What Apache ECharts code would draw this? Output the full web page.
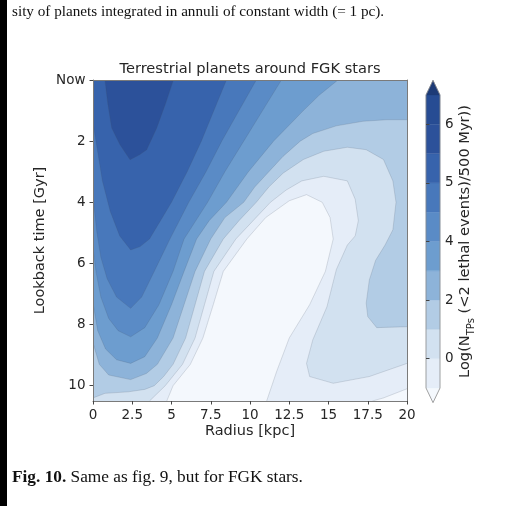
<!DOCTYPE html>
<html><head><meta charset="utf-8">
<script src="https://cdn.jsdelivr.net/npm/echarts@6/dist/echarts.min.js"></script>
<style>html,body{margin:0;padding:0;background:#fff;}#c{width:515px;height:506px;}</style>
</head><body><div id="c"></div>
<script>
// ---- axis data ----
const radiusRange = [0, 20];
const lookbackRange = [0, 10.5];
const radiusTicks = [0, 2.5, 5, 7.5, 10, 12.5, 15, 17.5, 20];
const lookbackTicks = [0, 2, 4, 6, 8, 10];
const levels = [-1, 0, 1, 2, 3, 4, 4.5, 5, 5.5, 6, 6.5];
const colorbarTicks = [0, 2, 4, 5, 6];
// ---- contour lines: [radius kpc, lookback Gyr] ----
const contour1 = [[4.7,10.5],[5.1,10.0],[6.2,9.3],[7.0,8.44],[7.66,7.35],[8.3,6.26],[9.8,5.2],[11.0,4.5],[12.5,3.95],[13.6,3.75],[14.6,4.0],[15.1,4.5],[15.3,5.2],[14.8,6.26],[13.8,7.35],[12.5,8.44],[11.7,9.53],[11.06,10.5]];
const contour1b = [[20,10.1],[18.5,10.4],[17.8,10.5]];
const contour2 = [[3.6,10.5],[4.6,10.0],[5.7,9.3],[6.5,8.44],[7.1,7.35],[7.7,6.26],[9.1,5.2],[10.2,4.6],[11.3,4.0],[12.3,3.6],[13.3,3.3],[14.7,3.15],[16.2,3.3],[16.7,3.9],[16.9,4.6],[16.7,5.1],[16.2,5.4],[15.5,6.2],[14.9,7.42],[14.0,8.5],[13.6,9.27],[13.8,9.7],[15.3,9.92],[17.6,9.7],[20,9.27]];
const contour3 = [[0,10.4],[0.76,10.25],[2.25,10.2],[3.3,10.12],[3.9,10.0],[4.5,9.7],[5.1,9.3],[5.9,8.44],[6.5,7.35],[7.1,6.26],[8.3,5.2],[9.3,4.6],[10.4,4.0],[11.2,3.5],[12.1,3.05],[13.4,2.6],[14.7,2.33],[16.2,2.2],[17.4,2.28],[18.5,2.6],[19.1,3.3],[19.3,4.0],[19.1,4.9],[18.6,5.4],[18.0,5.9],[17.6,6.54],[17.4,7.3],[17.5,7.74],[18.07,8.1],[20,8.07]];
const contour4 = [[0,8.6],[0.4,9.3],[1.0,9.65],[2.4,9.8],[3.4,9.6],[4.1,9.3],[5.1,8.44],[5.8,7.35],[6.5,6.26],[7.5,5.2],[8.4,4.5],[9.6,4.0],[10.3,3.5],[11.2,3.0],[12.1,2.5],[13.2,2.0],[14.0,1.75],[15.5,1.5],[17.2,1.35],[18.7,1.3],[20,1.3]];
const contour5 = [[0,7.3],[0.3,8.2],[0.8,8.8],[1.5,9.15],[2.4,9.27],[3.3,9.05],[4.1,8.44],[5.0,7.35],[5.8,6.26],[6.6,5.2],[7.4,4.6],[8.5,4.0],[9.9,3.0],[11.5,2.0],[13.4,1.0],[14.4,0.5],[15.6,0]];
const contour6 = [[0,5.5],[0.2,6.3],[0.5,7.1],[1.0,7.8],[1.6,8.2],[2.4,8.4],[3.3,8.1],[4.2,7.35],[5.1,6.26],[5.8,5.2],[7.3,4.0],[8.4,3.0],[9.6,2.0],[10.8,1.0],[12.0,0]];
const contour7 = [[0,3.8],[0.1,4.3],[0.25,5.0],[0.5,5.8],[0.9,6.5],[1.5,7.1],[2.4,7.47],[3.1,7.1],[3.9,6.26],[4.9,5.2],[6.1,4.0],[7.2,3.0],[8.2,2.0],[9.3,1.0],[10.4,0]];
const contour8 = [[0,1.4],[0.25,2.2],[0.6,3.3],[1.1,4.3],[1.7,5.1],[2.4,5.56],[3.0,5.45],[3.6,5.2],[4.3,4.6],[5.0,4.0],[6.0,3.0],[6.9,2.0],[7.7,1.0],[8.5,0]];
const contour9 = [[0.76,0],[0.95,0.8],[1.19,1.57],[1.72,2.12],[2.36,2.61],[2.99,2.44],[3.42,2.28],[4.06,1.57],[4.6,0.8],[5.12,0]];
// band colours, lowest (extend-min) to highest (extend-max)
const bandColors = ['#f4f8fd','#e5edf8','#d2e1f0','#b2cce5','#8db3d9','#6d9dcf','#5a8bc6','#4878bb','#3763ac','#2c519a','#274c93','#1d3b77'];

// ---- build superlevel regions from contours ----
const R0 = radiusRange[0], R1 = radiusRange[1], T0 = lookbackRange[0], T1 = lookbackRange[1];
const rev = a => a.slice().reverse();
const regions = [
  [[R0,T0],[R1,T0],[R1,T1],[R0,T1]],
  [[R0,T0],[R1,T0]].concat(contour1b, rev(contour1), [[R0,T1]]),
  [[R0,T0],[R1,T0]].concat(rev(contour2), [[R0,T1]]),
  [[R0,T0],[R1,T0]].concat(rev(contour3)),
  [[R0,T0],[R1,T0]].concat(rev(contour4)),
  [[R0,T0]].concat(rev(contour5)),
  [[R0,T0]].concat(rev(contour6)),
  [[R0,T0]].concat(rev(contour7)),
  [[R0,T0]].concat(rev(contour8)),
  contour9
];
const lines = [contour1, contour1b, contour2, contour3, contour4, contour5, contour6, contour7, contour8, contour9];

const FONT = 'DejaVu Sans';
const TXT = '#262626';
const chart = echarts.init(document.getElementById('c'), null, {renderer: 'canvas'});

const cbIndex = v => levels.indexOf(v);
const cbBands = bandColors.map((c, k) => [0.5, k]);

chart.setOption({
  animation: false,
  backgroundColor: '#ffffff',
  grid: [
    {left: 93, top: 80, width: 314, height: 321},
    {left: 426, top: 80.35, width: 14, height: 322.3}
  ],
  xAxis: [
    {gridIndex: 0, type: 'value', min: R0, max: R1, interval: 2.5, z: 10,
     axisLine: {show: true, onZero: false, lineStyle: {color: '#7a7a7a', width: 1}},
     axisTick: {show: true, length: 3.5, customValues: radiusTicks, lineStyle: {color: '#444'}},
     axisLabel: {fontFamily: FONT, fontSize: 13.5, color: TXT, margin: 7, customValues: radiusTicks},
     splitLine: {show: false},
     name: 'Radius [kpc]', nameLocation: 'middle', nameGap: 23, nameMoveOverlap: false,
     nameTextStyle: {fontFamily: FONT, fontSize: 14.5, color: TXT}},
    {gridIndex: 0, type: 'value', min: R0, max: R1, position: 'top', z: 10,
     axisLine: {show: true, onZero: false, lineStyle: {color: '#7a7a7a', width: 1}},
     axisTick: {show: false}, axisLabel: {show: false}, splitLine: {show: false}},
    {gridIndex: 1, type: 'value', min: 0, max: 1, show: false}
  ],
  yAxis: [
    {gridIndex: 0, type: 'value', min: T0, max: T1, inverse: true, z: 10,
     axisLine: {show: true, onZero: false, lineStyle: {color: '#7a7a7a', width: 1}},
     axisTick: {show: true, length: 3.5, customValues: lookbackTicks, lineStyle: {color: '#444'}},
     axisLabel: {fontFamily: FONT, fontSize: 13.5, color: TXT, margin: 7.5, customValues: lookbackTicks,
       formatter: v => v === 0 ? 'Now' : String(v)},
     splitLine: {show: false},
     name: 'Lookback time [Gyr]', nameLocation: 'middle', nameGap: 45, nameRotate: 90, nameMoveOverlap: false,
     nameTextStyle: {fontFamily: FONT, fontSize: 14.5, color: TXT}},
    {gridIndex: 0, type: 'value', min: T0, max: T1, inverse: true, position: 'right', z: 10,
     axisLine: {show: true, onZero: false, lineStyle: {color: '#7a7a7a', width: 1}},
     axisTick: {show: false}, axisLabel: {show: false}, splitLine: {show: false}},
    {gridIndex: 1, type: 'value', min: -0.5, max: levels.length - 0.5, position: 'right', z: 10,
     axisLine: {show: false},
     axisTick: {show: true, length: 3.5, customValues: colorbarTicks.map(cbIndex), lineStyle: {color: '#444'}},
     axisLabel: {fontFamily: FONT, fontSize: 13.5, color: TXT, margin: 5, customValues: colorbarTicks.map(cbIndex),
       formatter: v => String(levels[Math.round(v)])},
     splitLine: {show: false},
     name: 'Log(N{s|TPs} (<2 lethal events)/500 Myr))', nameLocation: 'middle', nameGap: 15, nameRotate: 90,
     nameMoveOverlap: false,
     nameTextStyle: {fontFamily: FONT, fontSize: 14.6, color: TXT,
       rich: {s: {fontFamily: FONT, fontSize: 10, color: TXT, verticalAlign: 'bottom', lineHeight: 21}}}}
  ],
  series: [
    {type: 'custom', xAxisIndex: 0, yAxisIndex: 0, silent: true, clip: true,
     data: regions.map((r, i) => [i, 0]),
     renderItem: (params, api) => {
       const i = params.dataIndex;
       return {type: 'polygon', shape: {points: regions[i].map(p => api.coord(p))},
               style: {fill: bandColors[i], stroke: null}};
     }},
    {type: 'custom', xAxisIndex: 0, yAxisIndex: 0, silent: true, clip: true,
     data: lines.map((r, i) => [i, 0]),
     renderItem: (params, api) => {
       const i = params.dataIndex;
       return {type: 'polyline', shape: {points: lines[i].map(p => api.coord(p))},
               style: {fill: null, stroke: 'rgba(70,80,100,0.22)', lineWidth: 0.8}};
     }},
    {type: 'custom', xAxisIndex: 2, yAxisIndex: 2, silent: true,
     data: cbBands,
     renderItem: (params, api) => {
       const k = params.dataIndex, n = bandColors.length;
       let pts;
       if (k === 0) pts = [[0, 0], [1, 0], [0.5, -0.5]];
       else if (k === n - 1) pts = [[0, n - 2], [1, n - 2], [0.5, n - 1.5]];
       else pts = [[0, k - 1], [1, k - 1], [1, k], [0, k]];
       return {type: 'polygon', shape: {points: pts.map(p => api.coord(p))},
               style: {fill: bandColors[k], stroke: bandColors[k], lineWidth: 0.3}};
     }},
    {type: 'custom', xAxisIndex: 2, yAxisIndex: 2, silent: true,
     data: [[0.5, 0]],
     renderItem: (params, api) => {
       const n = bandColors.length;
       const pts = [[0, 0], [0.5, -0.5], [1, 0], [1, n - 2], [0.5, n - 1.5], [0, n - 2]];
       return {type: 'polygon', shape: {points: pts.map(p => api.coord(p))},
               style: {fill: null, stroke: '#8a8a8a', lineWidth: 0.8}};
     }}
  ],
  graphic: [
    {type: 'rect', left: 0, top: 0, shape: {width: 7, height: 506}, style: {fill: '#000'}},
    {type: 'text', x: 250, y: 69.5, style: {text: 'Terrestrial planets around FGK stars',
      font: '14.6px "DejaVu Sans"', fill: TXT, textAlign: 'center', textVerticalAlign: 'middle'}},
    {type: 'text', left: 12, top: 4.5, style: {text: 'sity of planets integrated in annuli of constant width (= 1 pc).',
      font: '15.2px "Liberation Serif"', fill: '#111'}},
    {type: 'text', left: 12, top: 469, style: {
      text: '{b|Fig. 10.} Same as fig. 9, but for FGK stars.',
      font: '17.3px "Liberation Serif"', fill: '#111',
      rich: {b: {fontFamily: 'Liberation Serif', fontSize: 17.3, fontWeight: 'bold', fill: '#111'}}}}
  ]
});
</script></body></html>
